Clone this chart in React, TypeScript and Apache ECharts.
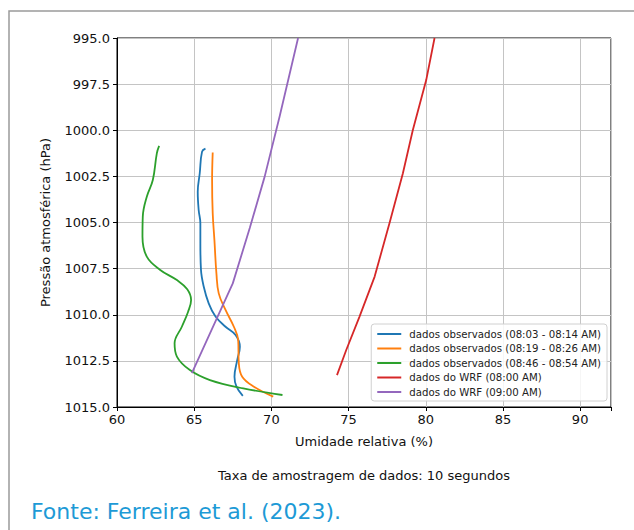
import React, { useEffect, useRef } from "react";
import * as echarts from "echarts";

// [umidade relativa (%), pressão (hPa)]
const obs1: [number, number][] = [
  [65.73, 1001.0], [65.51, 1001.16], [65.36, 1002.33], [65.23, 1003.33], [65.29, 1004.32],
  [65.4, 1005.04], [65.4, 1006.13], [65.44, 1007.57], [65.62, 1008.48], [65.94, 1009.38],
  [66.38, 1010.1], [67.03, 1010.65], [67.68, 1011.1], [67.96, 1011.73], [67.79, 1012.45],
  [67.61, 1013.36], [67.74, 1013.9], [68.15, 1014.4],
];
const obs2: [number, number][] = [
  [66.2, 1001.21], [66.16, 1002.7], [66.2, 1004.5], [66.31, 1005.95], [66.44, 1007.76],
  [66.59, 1008.84], [67.03, 1009.74], [67.57, 1010.65], [67.85, 1011.37], [67.89, 1012.63],
  [68.11, 1013.36], [68.87, 1013.9], [70.12, 1014.44],
];
const obs3: [number, number][] = [
  [62.73, 1000.85], [62.58, 1001.25], [62.32, 1002.7], [61.93, 1003.6], [61.67, 1004.68],
  [61.65, 1005.77], [61.93, 1006.85], [62.8, 1007.57], [63.88, 1008.12], [64.55, 1008.62],
  [64.8, 1009.2], [64.6, 1009.85], [64.2, 1010.65], [63.73, 1011.55], [63.88, 1012.27],
  [64.72, 1013.0], [66.02, 1013.54], [68.18, 1013.99], [70.72, 1014.35],
];
const wrf08: [number, number][] = [
  [80.57, 995.0], [80.03, 997.28], [79.16, 1000.0], [78.52, 1002.33], [77.65, 1005.04],
  [76.69, 1007.93], [75.71, 1010.1], [74.85, 1011.91], [74.25, 1013.27],
];
const wrf09: [number, number][] = [
  [71.73, 995.0], [70.53, 999.27], [69.57, 1002.5], [68.6, 1005.3], [67.5, 1008.3],
  [64.85, 1013.16],
];

const seriesNames = [
  "dados observados (08:03 - 08:14 AM)",
  "dados observados (08:19 - 08:26 AM)",
  "dados observados (08:46 - 08:54 AM)",
  "dados do WRF (08:00 AM)",
  "dados do WRF (09:00 AM)",
];
const seriesData = [obs1, obs2, obs3, wrf08, wrf09];
const seriesColors = ["#1f77b4", "#ff7f0e", "#2ca02c", "#d62728", "#9467bd"];
const seriesSmooth = [0.4, 0.4, 0.4, false, false];

const xLabel = "Umidade relativa (%)";
const yLabel = "Pressão atmosférica (hPa)";
const note = "Taxa de amostragem de dados: 10 segundos";
const source = "Fonte: Ferreira et al. (2023).";

const FONT = "DejaVu Sans";

export default function App() {
  const ref = useRef<HTMLDivElement>(null);
  useEffect(() => {
    if (!ref.current) return;
    const chart = echarts.init(ref.current, null, { renderer: "svg" });
    const gl = 117, gt = 38, gw = 494, gh = 369;
    chart.setOption({
      animation: false,
      backgroundColor: "#ffffff",
      grid: {
        left: gl, top: gt, width: gw, height: gh,
        show: true, borderColor: "#000", borderWidth: 1, backgroundColor: "transparent",
      },
      xAxis: {
        type: "value", min: 60, max: 92, interval: 5,
        axisLine: { show: true, onZero: false, lineStyle: { color: "#000", width: 1 } },
        axisTick: { show: true, inside: false, length: 4, lineStyle: { color: "#000" } },
        axisLabel: {
          fontFamily: FONT, fontSize: 13, color: "#111", margin: 6,
          formatter: (v: number) => (v > 91 ? "" : String(v)),
        },
        splitLine: { show: true, lineStyle: { color: "#c4c4c4", width: 1 } },
      },
      yAxis: {
        type: "value", min: 995, max: 1015, interval: 2.5, inverse: true,
        axisLine: { show: true, onZero: false, lineStyle: { color: "#000", width: 1 } },
        axisTick: { show: true, inside: false, length: 4, lineStyle: { color: "#000" } },
        axisLabel: {
          fontFamily: FONT, fontSize: 13, color: "#111", margin: 7,
          formatter: (v: number) => v.toFixed(1),
        },
        splitLine: { show: true, lineStyle: { color: "#c4c4c4", width: 1 } },
      },
      legend: {
        orient: "vertical",
        right: 634 - 607, bottom: 530 - 401,
        data: seriesNames,
        icon: "rect", itemWidth: 24, itemHeight: 2, itemGap: 4.5,
        backgroundColor: "rgba(255,255,255,0.85)",
        borderColor: "#d0d0d0", borderWidth: 1, borderRadius: 3,
        padding: [5, 6, 4, 6],
        textStyle: { fontFamily: FONT, fontSize: 10.2, color: "#222", padding: [0, 0, 0, 3] },
      },
      series: seriesData.map((d, i) => ({
        name: seriesNames[i],
        type: "line",
        data: d,
        showSymbol: false,
        smooth: seriesSmooth[i],
        color: seriesColors[i],
        lineStyle: { color: seriesColors[i], width: 1.8 },
        z: 3 + i,
      })),
      graphic: [
        {
          type: "rect", silent: true, z: -1,
          shape: { x: 9, y: 11, width: 640, height: 540 },
          style: { fill: "none", stroke: "#9a9a9a", lineWidth: 1.5 },
        },
        {
          type: "text", x: 45, y: gt + gh / 2, rotation: Math.PI / 2,
          style: { text: yLabel, fontFamily: FONT, fontSize: 13, fill: "#111", textAlign: "center", textVerticalAlign: "middle" },
        },
        {
          type: "text", x: gl + gw / 2, y: 441,
          style: { text: xLabel, fontFamily: FONT, fontSize: 13, fill: "#111", textAlign: "center", textVerticalAlign: "middle" },
        },
        {
          type: "text", x: gl + gw / 2, y: 475,
          style: { text: note, fontFamily: FONT, fontSize: 13, fill: "#111", textAlign: "center", textVerticalAlign: "middle" },
        },
        {
          type: "text", x: 31, y: 511,
          style: { text: source, fontFamily: "DejaVu Sans", fontSize: 22, fill: "#1d9ad6", textAlign: "left", textVerticalAlign: "middle" },
        },
      ],
    });
    return () => chart.dispose();
  }, []);
  return <div ref={ref} style={{ position: "fixed", left: 0, top: 0, width: 634, height: 530 }} />;
}
